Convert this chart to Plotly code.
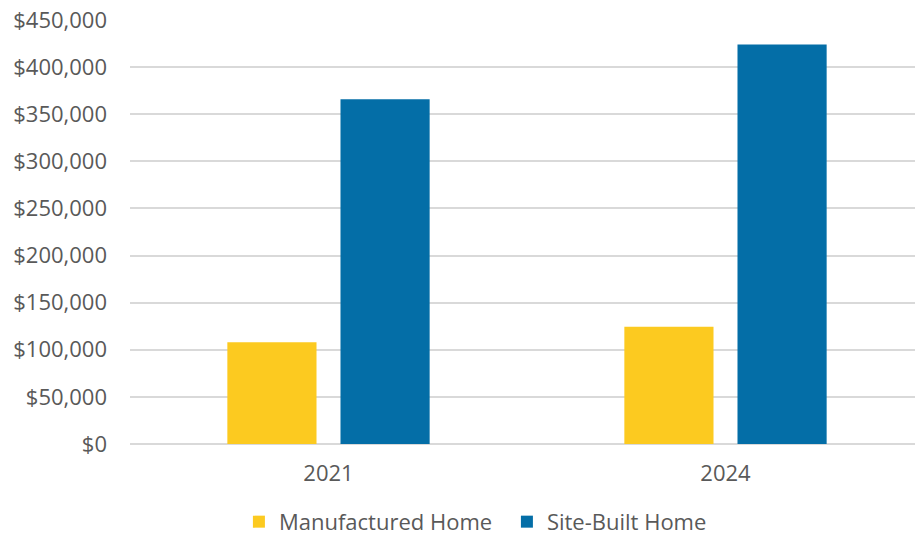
import plotly.graph_objects as go

# Median sale price by home type
years = ["2021", "2024"]
manufactured = [108000, 124500]
site_built = [366000, 424000]
y_ticks = list(range(0, 450001, 50000))
y_tick_labels = [f"${v:,.0f}" for v in y_ticks]

YELLOW = "#FCCA20"
BLUE = "#046EA7"
GRID = "#D9D9D9"
TEXT = "#595959"
FONT = "Open Sans"
SIZE = 22

x_pos = list(range(len(years)))

fig = go.Figure()
fig.add_trace(go.Bar(x=x_pos, y=manufactured, name="Manufactured Home",
                     marker=dict(color=YELLOW, line=dict(width=0))))
fig.add_trace(go.Bar(x=x_pos, y=site_built, name="Site-Built Home",
                     marker=dict(color=BLUE, line=dict(width=0))))

fig.update_layout(
    width=915, height=538,
    margin=dict(l=130, r=0, t=20, b=94),
    paper_bgcolor="white", plot_bgcolor="white",
    barmode="group", bargap=0.43, bargroupgap=0.212,
    font=dict(family=FONT, size=SIZE, color=TEXT),
    showlegend=True,
    legend=dict(orientation="h", x=0.554, xref="container", xanchor="center",
                y=0.03, yref="container", yanchor="middle",
                font=dict(family=FONT, size=SIZE, color=TEXT),
                itemwidth=30, entrywidth=223, traceorder="normal"),
    xaxis=dict(range=[-0.5, -0.5 + 785 / 397], tickmode="array",
               tickvals=x_pos, ticktext=years, showgrid=False, zeroline=False,
               showline=False, ticks="", ticklabelstandoff=14,
               tickfont=dict(family=FONT, size=SIZE, color=TEXT)),
    yaxis=dict(range=[0, 450000], tickmode="array", tickvals=y_ticks,
               ticktext=y_tick_labels, showgrid=True, gridcolor=GRID,
               gridwidth=1.5, zeroline=True, zerolinecolor=GRID,
               zerolinewidth=1.5, showline=False, ticks="",
               ticklabelstandoff=22,
               tickfont=dict(family=FONT, size=SIZE, color=TEXT)),
)

fig.write_html("out.html")
